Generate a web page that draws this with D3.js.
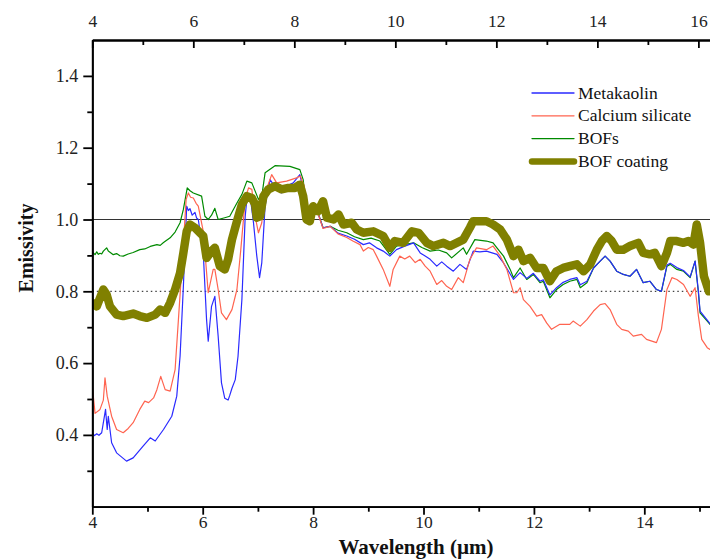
<!DOCTYPE html>
<html>
<head>
<meta charset="utf-8">
<script src="https://cdn.jsdelivr.net/npm/d3@7"></script>
<style>
  body { margin: 0; background: #fff; }
  text { font-family: "Liberation Serif", "Times New Roman", serif; }
</style>
</head>
<body>
<svg id="chart" width="710" height="559"></svg>
<script>
// Tick values
const bottomTicks = [4, 6, 8, 10, 12, 14];
const bottomMinor = [5, 7, 9, 11, 13, 15];
const topTicks = [4, 6, 8, 10, 12, 14, 16];
const topMinor = [5, 7, 9, 11, 13, 15];
const yTicks = [0.4, 0.6, 0.8, 1.0, 1.2, 1.4];
const yMinor = [0.3, 0.5, 0.7, 0.9, 1.1, 1.3];
const refSolid = 1.0;
const refDotted = 0.8;

const seriesNames = ["Metakaolin", "Calcium silicate", "BOFs", "BOF coating"];

// Emissivity spectra: [wavelength (µm), emissivity]
const metakaolin = [
  [4.0,0.406],[4.04,0.398],[4.08,0.403],[4.12,0.399],[4.17,0.406],[4.21,0.443],[4.24,0.471],[4.27,0.415],[4.29,0.452],
  [4.35,0.378],[4.44,0.35],[4.62,0.327],[4.74,0.336],[4.92,0.369],[5.05,0.392],[5.14,0.383],
  [5.29,0.415],[5.44,0.452],[5.53,0.508],[5.59,0.619],[5.65,0.814],[5.71,1.037],[5.74,1.025],[5.77,1.03],
  [5.81,1.012],[5.86,1.02],[5.89,1.004],[5.92,1.0],[6.01,0.907],[6.07,0.721],[6.10,0.661],[6.16,0.758],[6.22,0.786],
  [6.28,0.675],[6.34,0.545],[6.40,0.502],[6.46,0.497],[6.49,0.51],[6.53,0.53],[6.59,0.554],[6.64,0.619],
  [6.71,0.777],[6.77,1.009],[6.80,1.056],[6.86,1.065],[6.92,0.991],[6.98,0.898],[7.03,0.838],
  [7.07,0.879],[7.13,1.037],[7.22,1.111],[7.34,1.084],[7.43,1.074],[7.52,1.093],[7.64,1.102],
  [7.76,1.125],[7.82,1.084],[7.88,1.019],[7.94,1.005],[8.00,1.02],[8.07,1.025],[8.18,0.977],
  [8.31,0.981],[8.45,0.962],[8.61,0.954],[8.75,0.945],[8.91,0.93],[9.02,0.935],[9.15,0.921],[9.27,0.912],[9.39,0.898],
  [9.51,0.916],[9.65,0.925],[9.82,0.935],[9.94,0.907],[10.03,0.898],[10.12,0.889],[10.24,0.87],[10.33,0.882],[10.42,0.87],
  [10.54,0.856],[10.66,0.875],[10.78,0.861],[10.90,0.912],[11.02,0.91],[11.14,0.912],[11.33,0.903],[11.45,0.879],
  [11.63,0.833],[11.75,0.852],[11.87,0.836],[11.99,0.85],[12.11,0.828],[12.17,0.832],[12.29,0.79],
  [12.41,0.81],[12.53,0.825],[12.65,0.833],[12.78,0.838],[12.84,0.818],[12.96,0.828],[13.08,0.865],
  [13.20,0.884],[13.29,0.898],[13.38,0.884],[13.50,0.856],[13.62,0.847],[13.74,0.842],[13.86,0.861],
  [13.98,0.824],[14.10,0.828],[14.22,0.805],[14.31,0.80],[14.41,0.873],[14.47,0.878],
  [14.59,0.866],[14.71,0.858],[14.83,0.84],[14.92,0.884],[14.98,0.8],[15.01,0.745],
  [15.14,0.72],[15.19,0.71]
];

const calciumSilicate = [
  [4.0,0.536],[4.05,0.46],[4.14,0.471],[4.20,0.497],[4.23,0.559],[4.27,0.508],[4.35,0.452],
  [4.44,0.415],[4.56,0.406],[4.65,0.418],[4.74,0.434],[4.86,0.471],[4.95,0.494],[5.02,0.49],[5.11,0.503],[5.17,0.526],
  [5.24,0.563],[5.32,0.526],[5.41,0.522],[5.50,0.582],[5.56,0.721],[5.64,0.907],[5.70,1.056],
  [5.74,1.074],[5.78,1.062],[5.83,1.06],[5.88,1.045],[5.92,1.037],[6.01,0.967],[6.10,0.796],[6.19,0.861],[6.22,0.861],
  [6.28,0.805],[6.34,0.74],[6.43,0.721],[6.53,0.749],[6.62,0.805],[6.69,0.916],[6.77,1.056],
  [6.83,1.088],[6.89,1.084],[6.95,1.009],[7.01,0.963],[7.07,0.991],[7.13,1.074],[7.25,1.125],
  [7.34,1.102],[7.52,1.107],[7.70,1.116],[7.77,1.121],[7.84,1.093],[7.89,1.019],[7.94,1.005],
  [8.00,1.02],[8.07,1.025],[8.18,0.975],[8.31,0.981],[8.45,0.96],[8.61,0.95],[8.72,0.94],[8.85,0.93],[8.91,0.912],
  [9.00,0.922],[9.09,0.916],[9.15,0.898],[9.27,0.861],[9.39,0.814],[9.45,0.861],[9.57,0.898],[9.66,0.89],[9.75,0.898],
  [9.85,0.88],[9.94,0.889],[10.03,0.87],[10.12,0.856],[10.24,0.819],[10.33,0.83],[10.42,0.814],[10.51,0.805],[10.63,0.838],
  [10.72,0.824],[10.84,0.889],[10.96,0.921],[11.14,0.916],[11.26,0.926],[11.39,0.898],
  [11.51,0.861],[11.63,0.796],[11.69,0.796],[11.75,0.81],[11.81,0.777],[11.93,0.758],
  [12.05,0.731],[12.14,0.735],[12.23,0.712],[12.32,0.694],[12.47,0.708],[12.65,0.708],
  [12.71,0.717],[12.84,0.703],[12.96,0.721],[13.08,0.745],[13.20,0.763],[13.29,0.766],
  [13.38,0.749],[13.50,0.708],[13.59,0.694],[13.71,0.689],[13.80,0.675],[13.95,0.68],
  [14.04,0.666],[14.22,0.657],[14.31,0.694],[14.41,0.805],[14.50,0.838],[14.59,0.833],
  [14.71,0.819],[14.83,0.786],[14.92,0.81],[14.98,0.731],[15.04,0.666],[15.14,0.643],[15.19,0.638]
];

const bofs = [
  [4.0,0.905],[4.02,0.907],[4.05,0.902],[4.08,0.91],[4.11,0.903],[4.14,0.906],[4.17,0.904],[4.20,0.912],[4.26,0.921],[4.29,0.912],[4.32,0.909],
  [4.38,0.902],[4.44,0.905],[4.50,0.899],[4.56,0.898],[4.65,0.904],[4.74,0.908],[4.86,0.916],[4.95,0.918],[5.05,0.925],[5.17,0.930],[5.23,0.928],[5.29,0.936],
  [5.41,0.949],[5.50,0.965],[5.59,0.991],[5.65,1.028],[5.72,1.088],[5.77,1.08],[5.83,1.074],
  [5.98,1.065],[6.04,1.009],[6.10,1.0],[6.16,1.012],[6.22,1.031],[6.28,1.0],[6.40,1.005],
  [6.49,1.009],[6.62,1.046],[6.71,1.07],[6.80,1.107],[6.89,1.102],[6.95,1.079],[7.01,1.056],
  [7.07,1.065],[7.13,1.13],[7.31,1.15],[7.58,1.148],[7.76,1.139],[7.82,1.111],[7.88,1.028],
  [7.94,1.005],[8.00,1.02],[8.07,1.028],[8.18,0.977],[8.31,0.981],[8.45,0.97],[8.61,0.963],[8.75,0.952],[8.91,0.944],
  [9.05,0.948],[9.21,0.94],[9.39,0.903],[9.51,0.926],[9.65,0.93],[9.82,0.935],[9.97,0.922],[10.12,0.912],[10.27,0.915],[10.42,0.907],[10.51,0.893],
  [10.72,0.921],[10.78,0.903],[10.93,0.944],[11.14,0.94],[11.26,0.935],[11.33,0.921],
  [11.45,0.898],[11.57,0.861],[11.63,0.838],[11.75,0.865],[11.87,0.833],[11.99,0.847],
  [12.11,0.824],[12.17,0.828],[12.29,0.782],[12.41,0.805],[12.53,0.819],[12.65,0.828],
  [12.78,0.833],[12.84,0.81],[12.96,0.824],[13.08,0.865],[13.20,0.884],[13.29,0.898],
  [13.38,0.884],[13.50,0.856],[13.62,0.847],[13.74,0.842],[13.86,0.861],[13.98,0.824],
  [14.10,0.828],[14.22,0.805],[14.31,0.80],[14.41,0.87],[14.47,0.875],[14.59,0.861],
  [14.71,0.856],[14.83,0.838],[14.92,0.884],[14.98,0.796],[15.01,0.74],[15.14,0.717],[15.19,0.708]
];

const bofCoating = [
  [4.0,0.768],[4.08,0.758],[4.20,0.805],[4.26,0.791],[4.32,0.758],[4.44,0.735],[4.56,0.731],
  [4.74,0.738],[4.86,0.731],[4.99,0.726],[5.14,0.735],[5.23,0.749],[5.32,0.74],[5.41,0.768],
  [5.50,0.805],[5.59,0.851],[5.65,0.907],[5.71,0.967],[5.77,0.986],[5.86,0.977],[5.95,0.963],
  [6.01,0.954],[6.07,0.893],[6.16,0.912],[6.22,0.921],[6.31,0.87],[6.40,0.861],[6.46,0.889],
  [6.53,0.944],[6.62,0.995],[6.71,1.042],[6.80,1.065],[6.89,1.06],[6.95,1.042],[6.98,1.005],
  [7.04,1.009],[7.10,1.065],[7.19,1.084],[7.31,1.093],[7.43,1.084],[7.55,1.088],[7.67,1.088],
  [7.76,1.097],[7.82,1.065],[7.88,1.0],[7.94,0.995],[8.00,1.037],[8.09,1.023],[8.18,1.051],
  [8.25,1.005],[8.37,1.0],[8.46,1.014],[8.55,0.986],[8.70,0.991],[8.79,0.972],[8.91,0.963],
  [9.09,0.967],[9.27,0.954],[9.39,0.921],[9.48,0.94],[9.63,0.935],[9.79,0.967],[9.91,0.963],
  [10.06,0.935],[10.18,0.926],[10.36,0.935],[10.48,0.926],[10.60,0.935],[10.72,0.944],
  [10.84,0.977],[10.90,0.995],[11.14,0.995],[11.26,0.986],[11.39,0.972],[11.51,0.944],
  [11.63,0.898],[11.72,0.916],[11.81,0.884],[11.93,0.893],[12.05,0.865],[12.17,0.865],
  [12.29,0.828],[12.41,0.856],[12.53,0.865],[12.65,0.87],[12.78,0.875],[12.90,0.856],
  [13.02,0.875],[13.14,0.916],[13.23,0.94],[13.32,0.954],[13.41,0.94],[13.50,0.916],
  [13.62,0.916],[13.74,0.926],[13.89,0.935],[13.98,0.907],[14.10,0.903],[14.19,0.907],
  [14.31,0.87],[14.41,0.907],[14.47,0.94],[14.59,0.94],[14.71,0.935],[14.80,0.94],[14.89,0.93],
  [14.95,0.986],[15.01,0.935],[15.08,0.842],[15.17,0.80],[15.19,0.80]
];

const seriesData = [metakaolin, calciumSilicate, bofs, bofCoating];
const seriesColors = ["#2a2aff", "#ff6450", "#008a00", "#808000"];
const seriesWidths = [1.2, 1.2, 1.2, 8.5];

// Layout
const W = 710, H = 559;
const plotLeft = 92.3, plotRight = 710, plotTop = 40, plotBottom = 506.7;
const serif = "'Liberation Serif', 'Times New Roman', serif";

const svg = d3.select("#chart");
svg.append("rect").attr("width", W).attr("height", H).attr("fill", "#fff");

const x = d3.scaleLinear().domain([4, 15.19]).range([plotLeft, plotRight]);
const xTop = d3.scaleLinear().domain([4, 16.23]).range([plotLeft, plotRight]);
const y = d3.scaleLinear().domain([0.2, 1.5]).range([plotBottom, plotTop]);

svg.append("clipPath").attr("id", "plotClip")
  .append("rect").attr("x", plotLeft).attr("y", plotTop)
  .attr("width", plotRight - plotLeft).attr("height", plotBottom - plotTop);

const plot = svg.append("g").attr("clip-path", "url(#plotClip)");

// Reference lines
plot.append("line")
  .attr("x1", plotLeft).attr("x2", plotRight).attr("y1", y(refSolid)).attr("y2", y(refSolid))
  .attr("stroke", "#333").attr("stroke-width", 1.2);
plot.append("line")
  .attr("x1", plotLeft).attr("x2", plotRight).attr("y1", y(refDotted)).attr("y2", y(refDotted))
  .attr("stroke", "#444").attr("stroke-width", 1.2).attr("stroke-dasharray", "1.5,3");

const line = d3.line().x(d => x(d[0])).y(d => y(d[1]));

// Thin spectra first, then coating on top
[2, 0, 1, 3].forEach(i => {
  plot.append("path")
    .datum(seriesData[i])
    .attr("d", line)
    .attr("fill", "none")
    .attr("stroke", seriesColors[i])
    .attr("stroke-width", seriesWidths[i])
    .attr("stroke-linejoin", "round")
    .attr("stroke-linecap", "round");
});

// Axes
function styleAxis(g, size) {
  g.attr("font-family", serif).attr("font-size", size);
  g.select(".domain").attr("stroke", "#000").attr("stroke-width", 1.8);
  g.selectAll(".tick line").attr("stroke", "#000").attr("stroke-width", 1.8);
  g.selectAll(".tick text").attr("fill", "#222")
    .style("font-size", size + "px").style("font-family", serif);
}

const gBottom = svg.append("g").attr("transform", `translate(0,${plotBottom})`)
  .call(d3.axisBottom(x).tickValues(bottomTicks).tickFormat(d3.format("d"))
    .tickSize(8).tickSizeOuter(0).tickPadding(1));
styleAxis(gBottom, 17.5);
const gBottomMinor = svg.append("g").attr("transform", `translate(0,${plotBottom})`)
  .call(d3.axisBottom(x).tickValues(bottomMinor).tickFormat("").tickSize(5).tickSizeOuter(0));
styleAxis(gBottomMinor, 17.5);

const gTop = svg.append("g").attr("transform", `translate(0,${plotTop})`)
  .call(d3.axisTop(xTop).tickValues(topTicks).tickFormat(d3.format("d"))
    .tickSizeInner(-8).tickSizeOuter(0).tickPadding(13));
styleAxis(gTop, 17.5);
const gTopMinor = svg.append("g").attr("transform", `translate(0,${plotTop})`)
  .call(d3.axisTop(xTop).tickValues(topMinor).tickFormat("").tickSizeInner(-5).tickSizeOuter(0));
styleAxis(gTopMinor, 17.5);

const gLeft = svg.append("g").attr("transform", `translate(${plotLeft},0)`)
  .call(d3.axisLeft(y).tickValues(yTicks).tickFormat(d3.format(".1f"))
    .tickSize(9).tickSizeOuter(0).tickPadding(5));
styleAxis(gLeft, 18);
const gLeftMinor = svg.append("g").attr("transform", `translate(${plotLeft},0)`)
  .call(d3.axisLeft(y).tickValues(yMinor).tickFormat("").tickSize(5).tickSizeOuter(0));
styleAxis(gLeftMinor, 18);

// Axis titles
svg.append("text")
  .attr("x", 416).attr("y", 554)
  .attr("text-anchor", "middle")
  .style("font-family", serif)
  .style("font-size", "21px").style("font-weight", "bold").attr("fill", "#111")
  .text("Wavelength (µm)");

svg.append("text")
  .attr("transform", `translate(33,248) rotate(-90)`)
  .attr("text-anchor", "middle")
  .style("font-family", serif)
  .style("font-size", "20px").style("font-weight", "bold").attr("fill", "#111")
  .text("Emissivity");

// Legend
const legend = svg.append("g").attr("transform", "translate(532,93)");
seriesNames.forEach((name, i) => {
  const g = legend.append("g").attr("transform", `translate(0,${i * 22.8})`);
  g.append("line")
    .attr("x1", 0).attr("x2", 42).attr("y1", 0).attr("y2", 0)
    .attr("stroke", seriesColors[i])
    .attr("stroke-width", i === 3 ? 6.5 : 1.3)
    .attr("stroke-linecap", "round");
  g.append("text")
    .attr("x", 46).attr("y", 5.5)
    .style("font-family", serif)
    .style("font-size", "17.5px").attr("fill", "#111")
    .text(name);
});
</script>
</body>
</html>
